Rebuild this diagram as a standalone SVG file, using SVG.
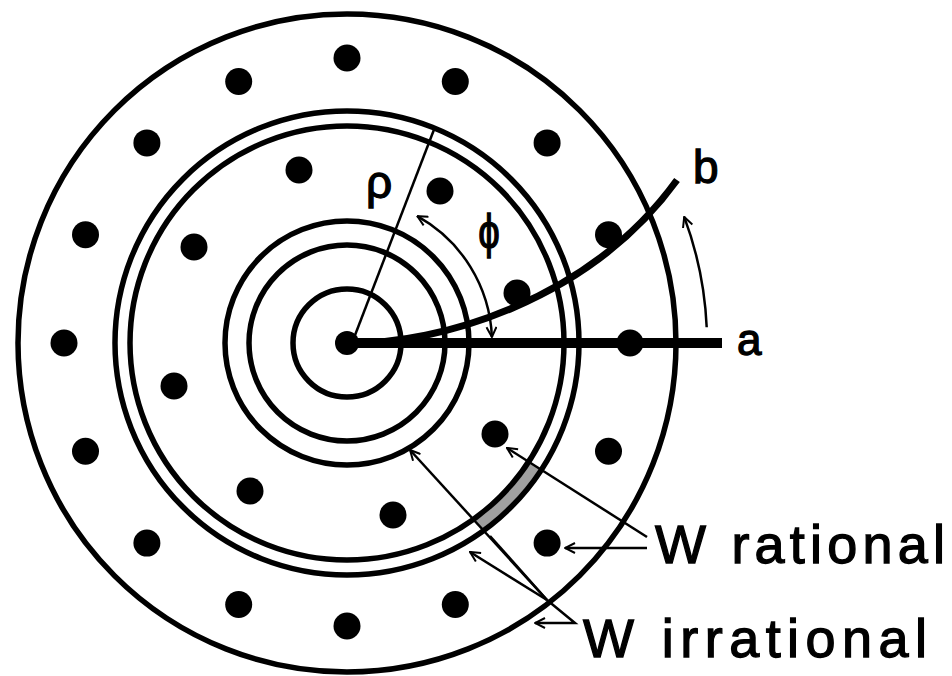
<svg xmlns="http://www.w3.org/2000/svg" width="952" height="676" viewBox="0 0 952 676">
<style>
.ring{fill:none;stroke:#000;stroke-width:5.5}
.dot{fill:#000}
.thin{fill:none;stroke:#000;stroke-width:2.5}
.lbl{font-family:"Liberation Sans",Arial,sans-serif;fill:#000;stroke:#000;stroke-width:1.3}
</style>
<defs>
<marker id="ah" viewBox="0 0 12 12" refX="11" refY="6" markerWidth="12" markerHeight="12" markerUnits="userSpaceOnUse" orient="auto-start-reverse">
<path d="M1,1 L11,6 L1,11" fill="none" stroke="#000" stroke-width="2"/>
</marker>
</defs>
<rect width="952" height="676" fill="#fff"/>
<g id="band">
<path d="M535.3,465.3 A224.5,224.5 0 0 1 479,524.6" fill="none" stroke="#a0a0a0" stroke-width="10"/>
</g>
<g id="circles">
<circle class="ring" cx="347" cy="343" r="329"/>
<circle class="ring" cx="347" cy="343" r="232"/>
<circle class="ring" cx="347" cy="343" r="217"/>
<circle class="ring" cx="347" cy="343" r="122"/>
<circle class="ring" cx="347" cy="343" r="98"/>
<circle class="ring" cx="347" cy="343" r="54"/>
</g>
<g id="outer-dots" class="dot">
<circle cx="630" cy="343" r="13.5"/>
<circle cx="608.5" cy="234.7" r="13.5"/>
<circle cx="547.1" cy="142.9" r="13.5"/>
<circle cx="455.3" cy="81.5" r="13.5"/>
<circle cx="347" cy="58" r="13.5"/>
<circle cx="238.7" cy="81.5" r="13.5"/>
<circle cx="146.9" cy="142.9" r="13.5"/>
<circle cx="85.5" cy="234.7" r="13.5"/>
<circle cx="64" cy="343" r="13.5"/>
<circle cx="85.5" cy="451.3" r="13.5"/>
<circle cx="146.9" cy="543.1" r="13.5"/>
<circle cx="238.7" cy="604.5" r="13.5"/>
<circle cx="347" cy="626" r="13.5"/>
<circle cx="455.3" cy="604.5" r="13.5"/>
<circle cx="547.1" cy="543.1" r="13.5"/>
<circle cx="608.5" cy="451.3" r="13.5"/>
</g>
<g id="inner-dots" class="dot">
<circle cx="299" cy="170" r="13.5"/>
<circle cx="194" cy="247" r="13.5"/>
<circle cx="174" cy="386" r="13.5"/>
<circle cx="250" cy="491" r="13.5"/>
<circle cx="393" cy="515" r="13.5"/>
<circle cx="495" cy="434" r="13.5"/>
<circle cx="517" cy="293" r="13.5"/>
<circle cx="440" cy="191" r="13.5"/>
</g>
<g id="connectors">
<line x1="347" y1="343" x2="722" y2="343" stroke="#000" stroke-width="10"/>
<path d="M347,343 C440,345 590,300 677,180" fill="none" stroke="#000" stroke-width="7"/>
<line class="thin" x1="352" y1="343" x2="435" y2="127"/>
<path class="thin" d="M491.9,337 A145,145 0 0 0 417.3,216.2" marker-start="url(#ah)" marker-end="url(#ah)"/>
<path class="thin" d="M706.7,327.3 A360,360 0 0 0 684.2,216.9" marker-end="url(#ah)"/>
<line class="thin" x1="647" y1="537" x2="507" y2="448" marker-end="url(#ah)"/>
<line class="thin" x1="647" y1="548" x2="565" y2="548" marker-end="url(#ah)"/>
<line class="thin" x1="547" y1="600" x2="410" y2="450" marker-end="url(#ah)"/>
<line class="thin" x1="547" y1="600" x2="470" y2="552" marker-end="url(#ah)"/>
<line class="thin" x1="547" y1="600" x2="490" y2="536"/>
<path class="thin" d="M547,600 L575,623 L535,623" marker-end="url(#ah)"/>
</g>
<g id="center">
<circle cx="347" cy="343" r="12" fill="#000"/>
</g>
<g id="labels" class="lbl">
<text x="737" y="355" font-size="44">a</text>
<text x="693" y="183" font-size="46">b</text>
<text x="366" y="198" font-size="46">ρ</text>
<text transform="translate(489,248) scale(0.8,1)" text-anchor="middle" font-size="48">ϕ</text>
<text x="655" y="563" font-size="54" textLength="290" lengthAdjust="spacing">W rational</text>
<text x="583" y="657" font-size="54" textLength="344" lengthAdjust="spacing">W irrational</text>
</g>
</svg>
